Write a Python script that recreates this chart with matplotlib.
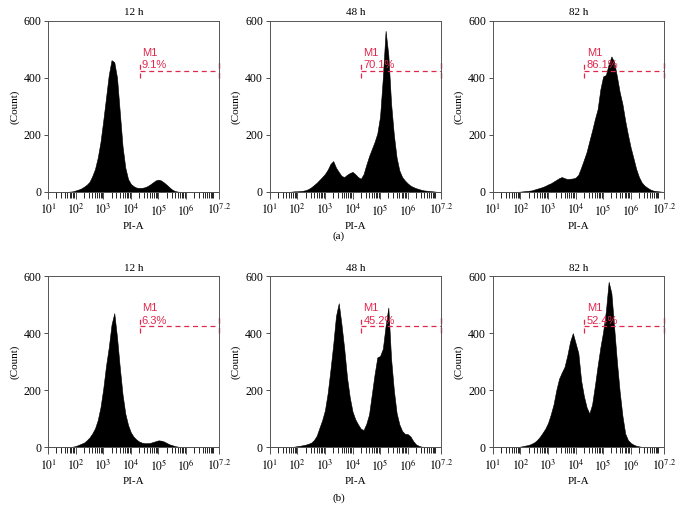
import numpy as np
import matplotlib.pyplot as plt
from matplotlib.ticker import FixedLocator, NullFormatter

plt.rcParams['font.family'] = 'Liberation Serif'
plt.rcParams['mathtext.fontset'] = 'stix'

# PI-A kanal konumlari (log10), 0.1 dekad adim
log_pi = np.round(np.arange(1.0, 7.21, 0.1), 1)

# (a) satiri
a_12h = [0, 0, 0, 0, 0, 0, 0, 0, 1, 2, 5, 8, 12, 18, 25, 35, 55, 80, 120, 175,
         250, 330, 410, 462, 455, 400, 280, 160, 85, 45, 28, 20, 15, 14, 14, 16,
         20, 26, 33, 40, 43, 40, 33, 25, 16, 8, 3, 1, 0, 0, 0, 0, 0, 0, 0, 0,
         0, 0, 0, 0, 0, 0, 0]
a_48h = [0, 0, 0, 0, 0, 0, 0, 0, 1, 2, 2, 3, 4, 6, 10, 16, 24, 32, 42, 52,
         63, 78, 98, 108, 85, 70, 56, 52, 60, 66, 70, 62, 52, 46, 62, 95,
         125, 150, 175, 205, 265, 400, 565, 480, 310, 200, 120, 75, 52, 40,
         30, 22, 17, 13, 10, 7, 5, 4, 3, 2, 1, 0, 0]
a_82h = [0, 0, 0, 0, 0, 0, 0, 0, 0, 0, 1, 2, 3, 4, 5, 8, 11, 14, 17, 21,
         26, 30, 36, 42, 48, 52, 48, 45, 46, 47, 50, 60, 85, 112, 140, 178,
         215, 255, 290, 360, 405, 410, 447, 475, 455, 405, 350, 308, 250, 200,
         155, 118, 80, 52, 33, 22, 15, 9, 5, 3, 2, 1, 0]

# (b) satiri
b_12h = [0, 0, 0, 0, 0, 0, 0, 0, 1, 2, 4, 8, 12, 16, 24, 34, 48, 66, 95, 140,
         205, 285, 350, 430, 470, 385, 280, 185, 118, 78, 52, 37, 27, 20, 16,
         14, 14, 15, 18, 21, 24, 23, 20, 15, 10, 7, 4, 2, 1, 0, 0, 0, 0, 0, 0,
         0, 0, 0, 0, 0, 0, 0, 0]
b_48h = [0, 0, 0, 0, 0, 0, 0, 0, 1, 2, 4, 5, 7, 9, 12, 16, 25, 40, 68, 95,
         130, 190, 272, 360, 460, 505, 430, 345, 245, 175, 125, 98, 80, 65, 60,
         82, 115, 185, 255, 315, 320, 345, 425, 490, 310, 200, 120, 80, 57, 47,
         46, 38, 22, 10, 5, 2, 1, 0, 0, 0, 0, 0, 0]
b_82h = [0, 0, 0, 0, 0, 0, 0, 0, 1, 1, 2, 4, 6, 8, 12, 17, 25, 36, 50, 65,
         85, 115, 150, 200, 240, 262, 282, 322, 370, 400, 365, 330, 235, 180,
         140, 118, 150, 215, 285, 350, 405, 478, 580, 540, 420, 300, 195, 110,
         48, 25, 15, 9, 5, 3, 1, 0, 0, 0, 0, 0, 0, 0, 0]

titles = ['12 h', '48 h', '82 h']
rows = [[a_12h, a_48h, a_82h], [b_12h, b_48h, b_82h]]
m1_pct = [['9.1%', '70.1%', '86.1%'], ['6.3%', '45.2%', '52.4%']]
row_tags = ['(a)', '(b)']

gate_lo = 2.1e4
gate_hi = 10 ** 7.2
gate_y = 425
gate_red = '#e0284f'

xt_pos = [1, 2, 3, 4, 5, 6, 7.2]
xt_lab = ['$10^{1}$', '$10^{2}$', '$10^{3}$', '$10^{4}$', '$10^{5}$',
          '$10^{6}$', '$10^{7.2}$']

fig = plt.figure(figsize=(6.78, 5.2), dpi=100)
lefts = [0.071, 0.398, 0.727]
bottoms = [0.631, 0.140]
w, h = 0.252, 0.329

for r in range(2):
    for c in range(3):
        ax = fig.add_axes([lefts[c], bottoms[r], w, h])
        counts = np.array(rows[r][c])
        ax.fill_between(10 ** log_pi, counts, 0, color='black', lw=0.4,
                        edgecolor='black')
        ax.set_xscale('log')
        ax.set_xlim(10, gate_hi)
        ax.set_ylim(0, 600)
        ax.xaxis.set_major_locator(FixedLocator([10 ** v for v in xt_pos]))
        ax.set_xticklabels(xt_lab)
        minors = [m * 10 ** k for k in range(1, 7) for m in range(2, 10)] + [1e7]
        ax.xaxis.set_minor_locator(FixedLocator(minors))
        ax.xaxis.set_minor_formatter(NullFormatter())
        ax.set_yticks([0, 200, 400, 600])
        ax.tick_params(axis='both', labelsize=8.5, length=3, width=0.6,
                       color='#333333', pad=2)
        ax.tick_params(axis='x', which='major', length=5, pad=3)
        ax.tick_params(axis='x', which='minor', length=4, width=0.6)
        for s in ax.spines.values():
            s.set_linewidth(0.7)
            s.set_color('#555555')
        ax.set_title(titles[c], fontsize=8, pad=4)
        ax.set_xlabel('PI-A', fontsize=8, labelpad=3)
        ax.set_ylabel('(Count)', fontsize=8, labelpad=3)

        # M1 kapisi
        ax.plot([gate_lo, gate_hi], [gate_y, gate_y], color=gate_red,
                lw=0.9, ls=(0, (4, 3)), clip_on=False)
        ax.plot([gate_lo, gate_lo], [400, 455], color=gate_red,
                lw=0.9, ls=(0, (4, 3)))
        ax.plot([gate_hi, gate_hi], [400, 460], color=gate_red,
                lw=1.0, ls=(0, (4, 3)), clip_on=False)
        ax.text(gate_lo * 1.2, 470, 'M1', color=gate_red, fontsize=8,
                family='Liberation Sans', va='bottom')
        ax.text(gate_lo * 1.2, 426, m1_pct[r][c], color=gate_red,
                fontsize=8, family='Liberation Sans', va='bottom')

fig.text(0.5, 0.546, row_tags[0], ha='center', va='center', fontsize=8)
fig.text(0.5, 0.042, row_tags[1], ha='center', va='center', fontsize=8)

fig.savefig('out.png', dpi=100)
